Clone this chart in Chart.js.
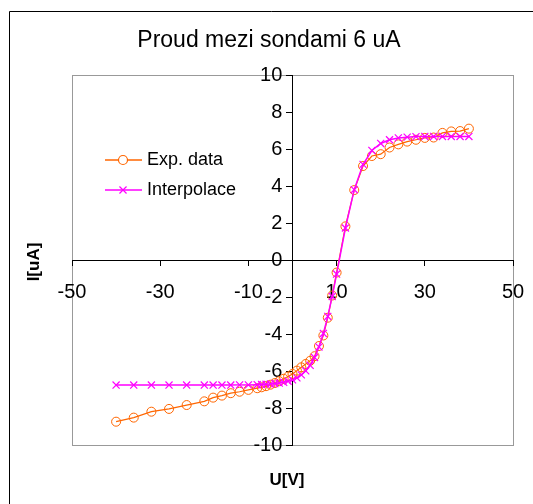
<!DOCTYPE html>
<html>
<head>
<meta charset="utf-8">
<script src="https://cdn.jsdelivr.net/npm/chart.js@4.4.1/dist/chart.umd.min.js"></script>
<style>
  body { margin: 0; background: #fff; }
</style>
</head>
<body>
<canvas id="myChart" width="533" height="504"></canvas>
<script>
// data
const voltage = [-40, -36, -32, -28, -24, -20, -18, -16, -14, -12, -10, -8, -7, -6, -5, -4, -3, -2, -1, 0,
                 1, 2, 3, 4, 5, 6, 7, 8, 9, 10, 12, 14, 16, 18, 20, 22, 24, 26, 28, 30, 32, 34, 36, 38, 40];
const expData = [-8.74, -8.52, -8.2, -8.05, -7.84, -7.64, -7.44, -7.33, -7.2, -7.12, -7.02, -6.93, -6.88, -6.82, -6.74, -6.65, -6.55, -6.42, -6.3, -6.16,
                 -5.98, -5.8, -5.62, -5.45, -5.2, -4.65, -4.08, -3.12, -1.92, -0.68, 1.82, 3.78, 5.08, 5.62, 5.72, 6.08, 6.25, 6.4, 6.5, 6.6, 6.62, 6.87, 6.95, 6.97, 7.1];
const interpData = [-6.76, -6.76, -6.76, -6.76, -6.76, -6.76, -6.76, -6.76, -6.76, -6.75, -6.75, -6.74, -6.73, -6.72, -6.7, -6.68, -6.65, -6.61, -6.55, -6.48,
                    -6.37, -6.21, -5.99, -5.69, -5.27, -4.7, -3.97, -3.05, -1.97, -0.76, 1.73, 3.8, 5.17, 5.92, 6.3, 6.5, 6.6, 6.64, 6.67, 6.68, 6.68, 6.68, 6.68, 6.68, 6.68];
const seriesNames = ['Exp. data', 'Interpolace'];
const titleText = 'Proud mezi sondami 6 uA';
const xTitle = 'U[V]';
const yTitle = 'I[uA]';

const orange = '#FF6600';
const magenta = '#FF00FF';
const fam = "'Liberation Sans', Arial, sans-serif";

const toPoints = (ys) => voltage.map((v, i) => ({ x: v, y: ys[i] }));

// frame, title, axis titles and legend
const decor = {
    id: 'decor',
    beforeDraw(chart) {
        const c = chart.ctx;
        const a = chart.chartArea;
        c.save();
        c.fillStyle = '#fff';
        c.fillRect(0, 0, chart.width, chart.height);
        c.strokeStyle = '#000';
        c.lineWidth = 1;
        c.beginPath();
        c.moveTo(9.5, chart.height);
        c.lineTo(9.5, 11.5);
        c.lineTo(chart.width, 11.5);
        c.stroke();
        c.strokeStyle = '#999';
        c.strokeRect(a.left + 0.5, a.top + 0.5, a.right - a.left, a.bottom - a.top);
        c.restore();
    },
    afterDraw(chart) {
        const c = chart.ctx;
        c.save();
        c.fillStyle = '#000';
        c.textAlign = 'center';
        c.textBaseline = 'middle';
        c.font = '23px ' + fam;
        c.fillText(titleText, 269, 41);
        c.font = 'bold 17px ' + fam;
        c.fillText(xTitle, 287, 480);
        c.translate(34, 262);
        c.rotate(-Math.PI / 2);
        c.fillText(yTitle, 0, 0);
        c.restore();

        // legend
        const items = [
            { y: 160, color: orange, style: 'circle', r: 4.5 },
            { y: 190, color: magenta, style: 'crossRot', r: 5 }
        ];
        c.save();
        items.forEach((it, i) => {
            c.strokeStyle = it.color;
            c.fillStyle = '#fff';
            c.lineWidth = 1.3;
            c.beginPath();
            c.moveTo(105, it.y);
            c.lineTo(142, it.y);
            c.stroke();
            c.lineWidth = 1.2;
            Chart.helpers.drawPoint(c, { pointStyle: it.style, radius: it.r, borderWidth: 1.2 }, 123, it.y);
            c.fillStyle = '#000';
            c.font = '18px ' + fam;
            c.textAlign = 'left';
            c.textBaseline = 'middle';
            c.fillText(seriesNames[i], 147, it.y);
        });
        c.restore();
    }
};

const tickFont = { family: fam, size: 20 };

const ctx = document.getElementById('myChart').getContext('2d');
const myChart = new Chart(ctx, {
    type: 'scatter',
    data: {
        datasets: [{
            label: seriesNames[0],
            data: toPoints(expData),
            showLine: true,
            borderColor: orange,
            borderWidth: 1.2,
            pointStyle: 'circle',
            pointRadius: 4.5,
            pointBorderColor: orange,
            pointBackgroundColor: 'rgba(0,0,0,0)',
            pointBorderWidth: 1,
            order: 2
        }, {
            label: seriesNames[1],
            data: toPoints(interpData),
            showLine: true,
            borderColor: magenta,
            borderWidth: 1.5,
            pointStyle: 'crossRot',
            pointRadius: 5,
            pointBorderColor: magenta,
            pointBorderWidth: 1.2,
            order: 1
        }]
    },
    options: {
        responsive: false,
        animation: false,
        devicePixelRatio: 1,
        layout: {
            padding: { left: 72, top: 75, right: 20, bottom: 59 }
        },
        scales: {
            // axes crossing at zero: lines and tick marks
            x: {
                type: 'linear',
                min: -50,
                max: 50,
                position: { y: 0 },
                border: { color: '#000', width: 1 },
                grid: { drawOnChartArea: false, tickLength: 5, color: '#000' },
                ticks: { stepSize: 20, display: false }
            },
            y: {
                type: 'linear',
                min: -10,
                max: 10,
                position: { x: 0 },
                border: { color: '#000', width: 1 },
                grid: { drawOnChartArea: false, tickLength: 6, color: '#000' },
                ticks: { stepSize: 2, display: false }
            },
            // same ranges, only carrying the labels a little off the axis lines
            xLabels: {
                axis: 'x',
                type: 'linear',
                min: -50,
                max: 50,
                position: { y: -0.5 },
                border: { display: false },
                grid: { display: false },
                ticks: { stepSize: 20, color: '#000', font: tickFont, maxRotation: 0, autoSkip: false }
            },
            yLabels: {
                axis: 'y',
                type: 'linear',
                min: -10,
                max: 10,
                position: { xLabels: -2.3 },
                border: { display: false },
                grid: { display: false },
                ticks: { stepSize: 2, color: '#000', font: tickFont, autoSkip: false }
            }
        },
        plugins: {
            legend: { display: false },
            title: { display: false },
            tooltip: { enabled: false }
        }
    },
    plugins: [decor]
});
</script>
</body>
</html>
